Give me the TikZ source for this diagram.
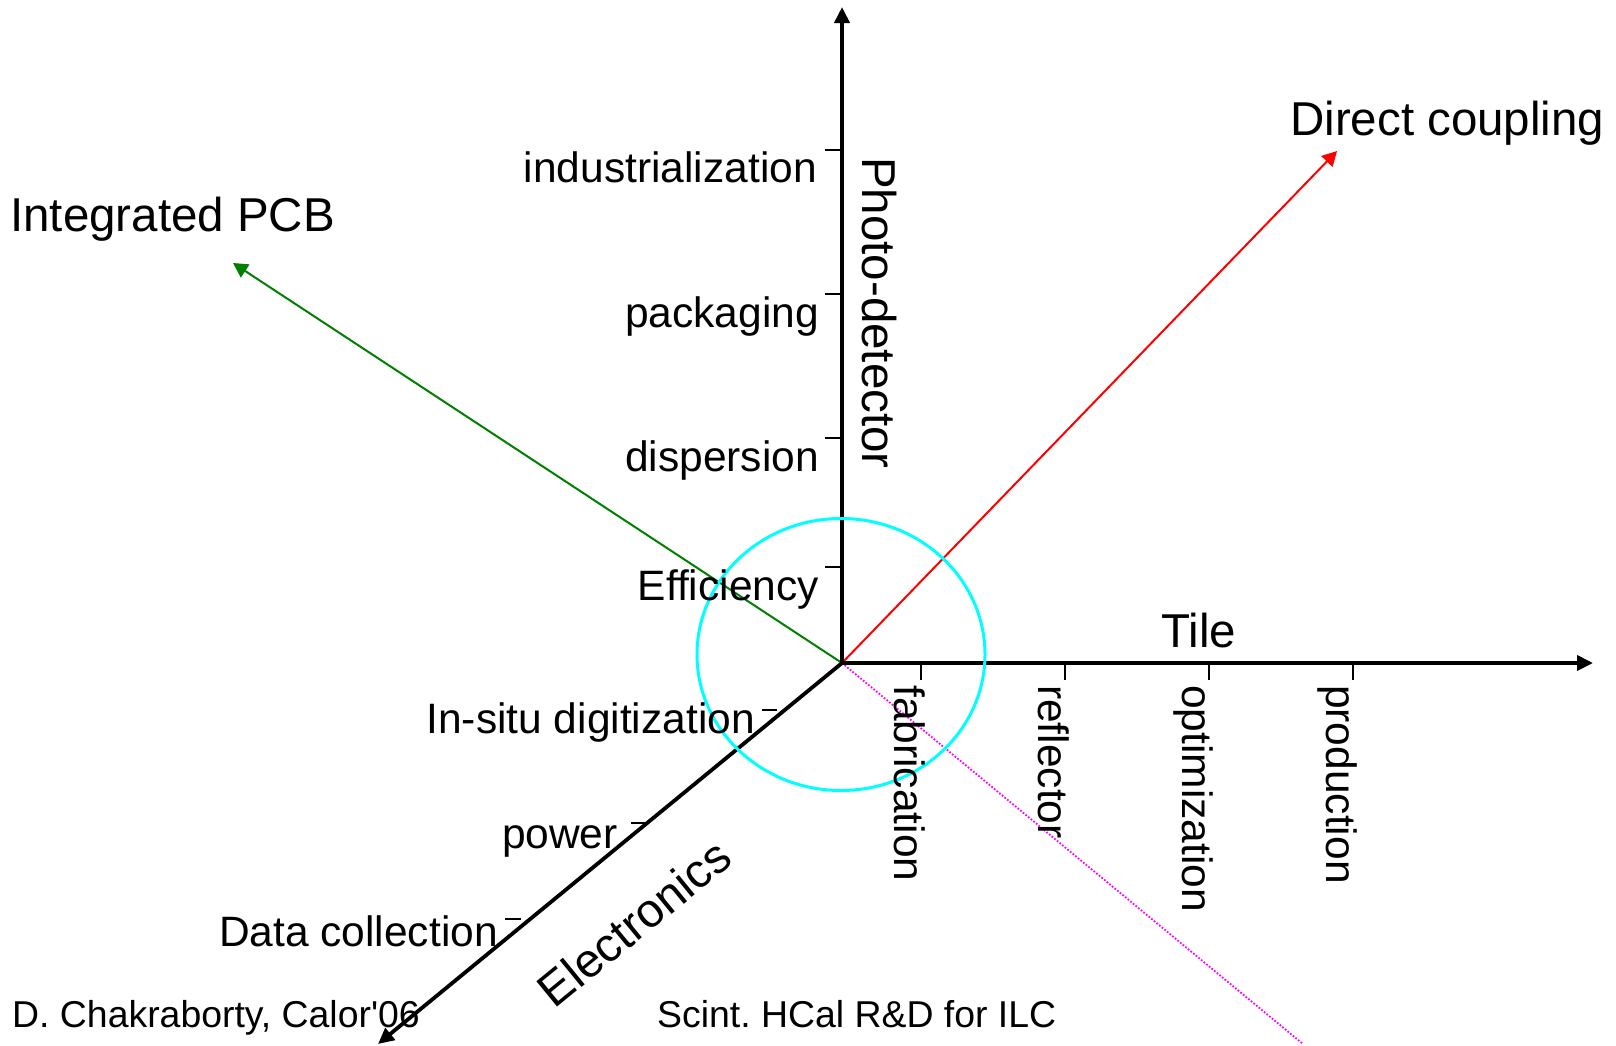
\documentclass[tikz,border=0pt]{standalone}
\usepackage{fontspec}
\setmainfont{Liberation Sans}[Ligatures=TeXOff]
\usetikzlibrary{arrows.meta,shapes.geometric}
\definecolor{cyanrgb}{RGB}{0,255,255}
\definecolor{magentargb}{RGB}{255,0,255}
\definecolor{greenrgb}{RGB}{0,128,0}
\definecolor{redrgb}{RGB}{255,0,0}
\begin{document}
\frenchspacing
\begin{tikzpicture}[x=1pt,y=-1pt,
  axis/.style={line width=3.8pt,-{Triangle[length=16pt,width=15pt]}},
  tickmark/.style={line width=2pt},
  lab/.style={inner sep=0pt,font=\fontsize{42.5}{48}\selectfont},
  biglab/.style={inner sep=0pt,font=\fontsize{47.5}{54}\selectfont},
  foot/.style={inner sep=0pt,font=\fontsize{37.4}{42}\selectfont},
  vlab/.style={lab,anchor=base east},
  hlab/.style={lab,anchor=base west,rotate=-90},
  colarrow/.style={line width=2pt,-{Triangle[length=14.6pt,width=15.4pt]}}]
\useasboundingbox (0,0) rectangle (1616,1045);
\fill[white] (0,0) rectangle (1616,1045);
% coordinates
\coordinate (O) at (842,663);
\coordinate (ytip) at (842,7);
\coordinate (xtip) at (1593,663);
\coordinate (etip) at (378,1044);
\coordinate (gtip) at (233,263);
\coordinate (rtip) at (1337,151);
\coordinate (mend) at (1303,1044);
% coloured lines
\draw[colarrow,greenrgb] (O) -- (gtip);
\draw[colarrow,redrgb] (O) -- (rtip);
\draw[magentargb,line width=1.8pt,dash pattern=on 1.7pt off 1.7pt] (O) -- (mend);
% axes
\draw[axis] (O) -- (ytip);
\draw[axis] (O) -- (xtip);
\draw[axis] (O) -- (etip);
% vertical ticks
\foreach \n/\yy in {v1/149.5,v2/293.7,v3/438,v4/566.7}{
  \coordinate (\n a) at (825,\yy);
  \coordinate (\n b) at (842,\yy);
  \draw[tickmark] (\n a) -- (\n b);
}
% horizontal ticks
\foreach \n/\xx in {h1/921,h2/1065,h3/1209,h4/1353}{
  \coordinate (\n a) at (\xx,663);
  \coordinate (\n b) at (\xx,680);
  \draw[tickmark] (\n a) -- (\n b);
}
% electronics ticks
\foreach \n/\xa/\xb/\yy in {e1/762/777/710,e2/631/646/823,e3/505/521/919}{
  \coordinate (\n a) at (\xa,\yy);
  \coordinate (\n b) at (\xb,\yy);
  \draw[tickmark] (\n a) -- (\n b);
}
% circle
\node[draw=cyanrgb,line width=3pt,ellipse,minimum width=288pt,minimum height=272pt,inner sep=0pt] (circ) at (841,654.5) {};
% vertical labels
\node[vlab] (indus) at (817,182.5) {industrialization};
\node[vlab] (pack) at (819,327) {packaging};
\node[vlab] (disp) at (819,471) {dispersion};
\node[vlab] (eff) at (819,600) {Efficiency};
% horizontal labels
\node[hlab] (fab) at (894,685) {fabrication};
\node[hlab] (refl) at (1038,685) {reflector};
\node[hlab] (opt) at (1182,685) {optimization};
\node[hlab] (prod) at (1326,685) {production};
% electronics labels
\node[vlab] (insitu) at (755,733) {In-situ digitization};
\node[vlab] (power) at (618,848) {power};
\node[vlab] (datac) at (498,946) {Data collection};
% axis titles
\node[biglab,anchor=base west,rotate=-90] (photo) at (862,157) {Photo-detector};
\node[biglab,anchor=base west] (tile) at (1161,647) {Tile};
\node[biglab,rotate=39.3] (elec) at (634,923) {Electronics};
\node[biglab,anchor=base west] (ipcb) at (10,231) {Integrated PCB};
\node[biglab,anchor=base west] (dcoup) at (1290,135) {Direct coupling};
% footer
\node[foot,anchor=base west] (f1) at (12,1027) {D. Chakraborty, Calor'06};
\node[foot,anchor=base west] (f2) at (657,1027) {Scint. HCal R\&D for ILC};
\end{tikzpicture}
\end{document}
